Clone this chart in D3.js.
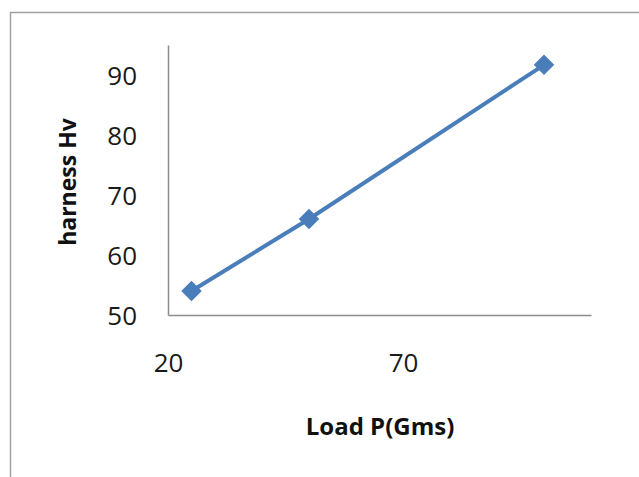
<!DOCTYPE html>
<html>
<head>
<meta charset="utf-8">
<script src="https://cdn.jsdelivr.net/npm/d3@7"></script>
<style>
body {
    margin: 0;
    background: #fff;
}
svg text {
    font-family: "Open Sans", sans-serif;
}
</style>
</head>
<body>
<svg></svg>
<script>
const width = 639, height = 477;

// data
const loads = [25, 50, 100];
const hardness = [54, 66, 91.7];
const xTicks = [20, 70];
const yTicks = [50, 60, 70, 80, 90];

const svg = d3.select("svg")
    .attr("width", width)
    .attr("height", height);

// outer chart frame (runs off the right and bottom edge)
svg.append("rect")
    .attr("x", 10.5).attr("y", 12.5)
    .attr("width", 700).attr("height", 600)
    .attr("fill", "none")
    .attr("stroke", "#a0a0a0")
    .attr("stroke-width", 1.5);

const x = d3.scaleLinear().domain([20, 110]).range([168, 591]);
const y = d3.scaleLinear().domain([50, 95]).range([315, 45]);

// axes, no tick marks
const xAxis = svg.append("g")
    .attr("transform", "translate(0,315)")
    .call(d3.axisBottom(x).tickValues(xTicks).tickSize(0).tickPadding(39));
const yAxis = svg.append("g")
    .attr("transform", "translate(168,0)")
    .call(d3.axisLeft(y).tickValues(yTicks).tickSize(0).tickPadding(31));

[xAxis, yAxis].forEach(g => {
    g.select(".domain").attr("stroke", "#8c8c8c").attr("stroke-width", 1.5);
    g.selectAll("text")
        .attr("fill", "#1a1a1a")
        .style("font-size", "26px")
        .style("font-family", "'Open Sans', sans-serif");
});
yAxis.selectAll("text").attr("dy", "0.36em");

const points = loads.map((v, i) => ({x: v, y: hardness[i]}));

svg.append("path")
    .datum(points)
    .attr("fill", "none")
    .attr("stroke", "#4a7ebb")
    .attr("stroke-width", 4)
    .attr("d", d3.line().x(d => x(d.x)).y(d => y(d.y)));

svg.selectAll(".mark")
    .data(points)
    .enter()
    .append("path")
    .attr("class", "mark")
    .attr("fill", "#4a7ebb")
    .attr("d", d3.symbol(d3.symbolSquare, 210))
    .attr("transform", d => "translate(" + x(d.x) + "," + y(d.y) + ") rotate(45)");

svg.append("text")
    .attr("x", 380).attr("y", 435)
    .attr("text-anchor", "middle")
    .attr("font-weight", "bold")
    .style("font-size", "24px")
    .attr("fill", "#111")
    .text("Load P(Gms)");

svg.append("text")
    .attr("transform", "translate(76,182) rotate(-90)")
    .attr("text-anchor", "middle")
    .attr("font-weight", "bold")
    .style("font-size", "23px")
    .attr("fill", "#111")
    .text("harness Hv");
</script>
</body>
</html>
